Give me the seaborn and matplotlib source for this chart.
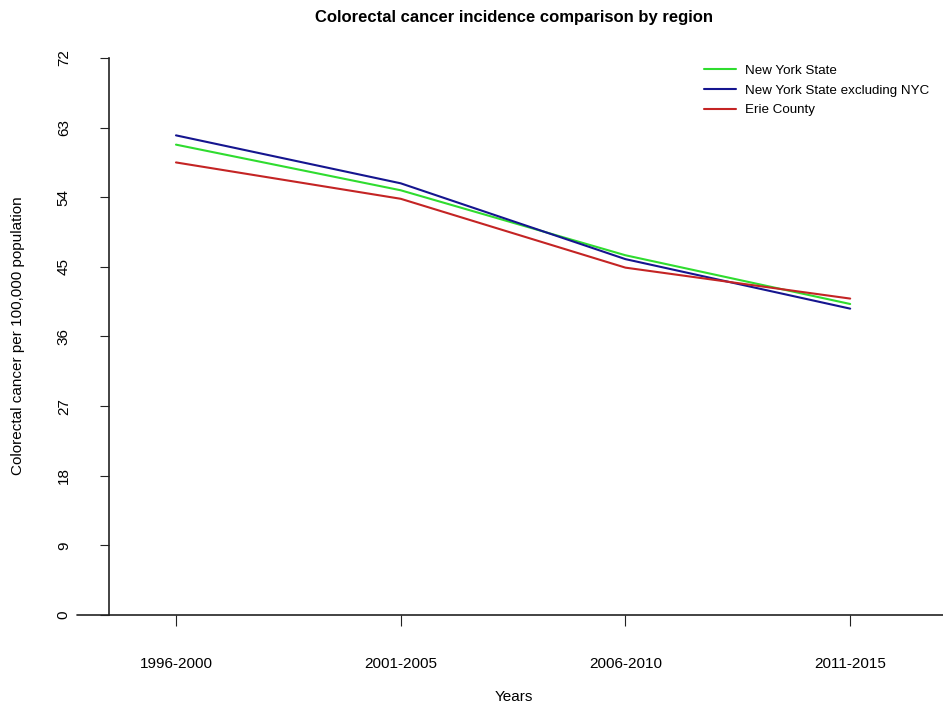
import pandas as pd
import matplotlib.pyplot as plt
import seaborn as sns

periods = ["1996-2000", "2001-2005", "2006-2010", "2011-2015"]
nys = [60.8, 54.9, 46.5, 40.2]
nys_ex_nyc = [62.0, 55.8, 46.0, 39.6]
erie = [58.5, 53.8, 44.9, 40.9]
regions = ["New York State", "New York State excluding NYC", "Erie County"]
colors = ["#2fdc2f", "#15158f", "#c42424"]

df = pd.DataFrame({
    "x": list(range(len(periods))) * 3,
    "value": nys + nys_ex_nyc + erie,
    "region": [r for r in regions for _ in periods],
})

sns.set_style("ticks")
plt.rcParams["font.family"] = ["Liberation Sans", "DejaVu Sans"]
plt.rcParams["text.color"] = "black"

fig = plt.figure(figsize=(9.43, 7.09), dpi=100)
ax = fig.add_axes([0.1156, 0.1326, 0.8844, 0.7856])
sns.lineplot(data=df, x="x", y="value", hue="region", hue_order=regions,
             palette=colors, linewidth=1.5, ax=ax)

ax.set_xlim(-0.298, 3.413)
ax.set_ylim(0, 72)
ax.set_yticks(range(0, 73, 9))
ax.set_xticks(range(len(periods)))
ax.set_xticklabels(periods)
ax.tick_params(axis="x", length=8, pad=22, labelsize=11, color="#222222",
               labelcolor="black")
ax.tick_params(axis="y", length=6.5, pad=21, labelsize=11, color="#222222",
               labelcolor="black", labelrotation=90)
for lab in ax.get_yticklabels():
    lab.set_va("center")
ax.spines["top"].set_visible(False)
ax.spines["right"].set_visible(False)
for s in ["left", "bottom"]:
    ax.spines[s].set_color("#222222")
    ax.spines[s].set_linewidth(1.2)
# bottom axis line runs a little to the left of the y axis
ax.plot([-0.44, -0.298], [0, 0], color="#222222", lw=1.2, clip_on=False)
ax.set_xlabel("")
ax.set_ylabel("")

fig.text(0.545, 0.975, "Colorectal cancer incidence comparison by region",
         ha="center", va="center", fontsize=12, fontweight="bold")
fig.text(0.545, 0.017, "Years", ha="center", va="center", fontsize=11)
fig.text(0.019, 0.526, "Colorectal cancer per 100,000 population",
         ha="center", va="center", rotation=90, fontsize=11)

ax.legend(loc="upper left", bbox_to_anchor=(0.702, 1.005), frameon=False,
          fontsize=9.6, handlelength=2.4, handletextpad=0.7,
          labelspacing=0.55, borderaxespad=0.3)

fig.savefig("out.png", dpi=100)
